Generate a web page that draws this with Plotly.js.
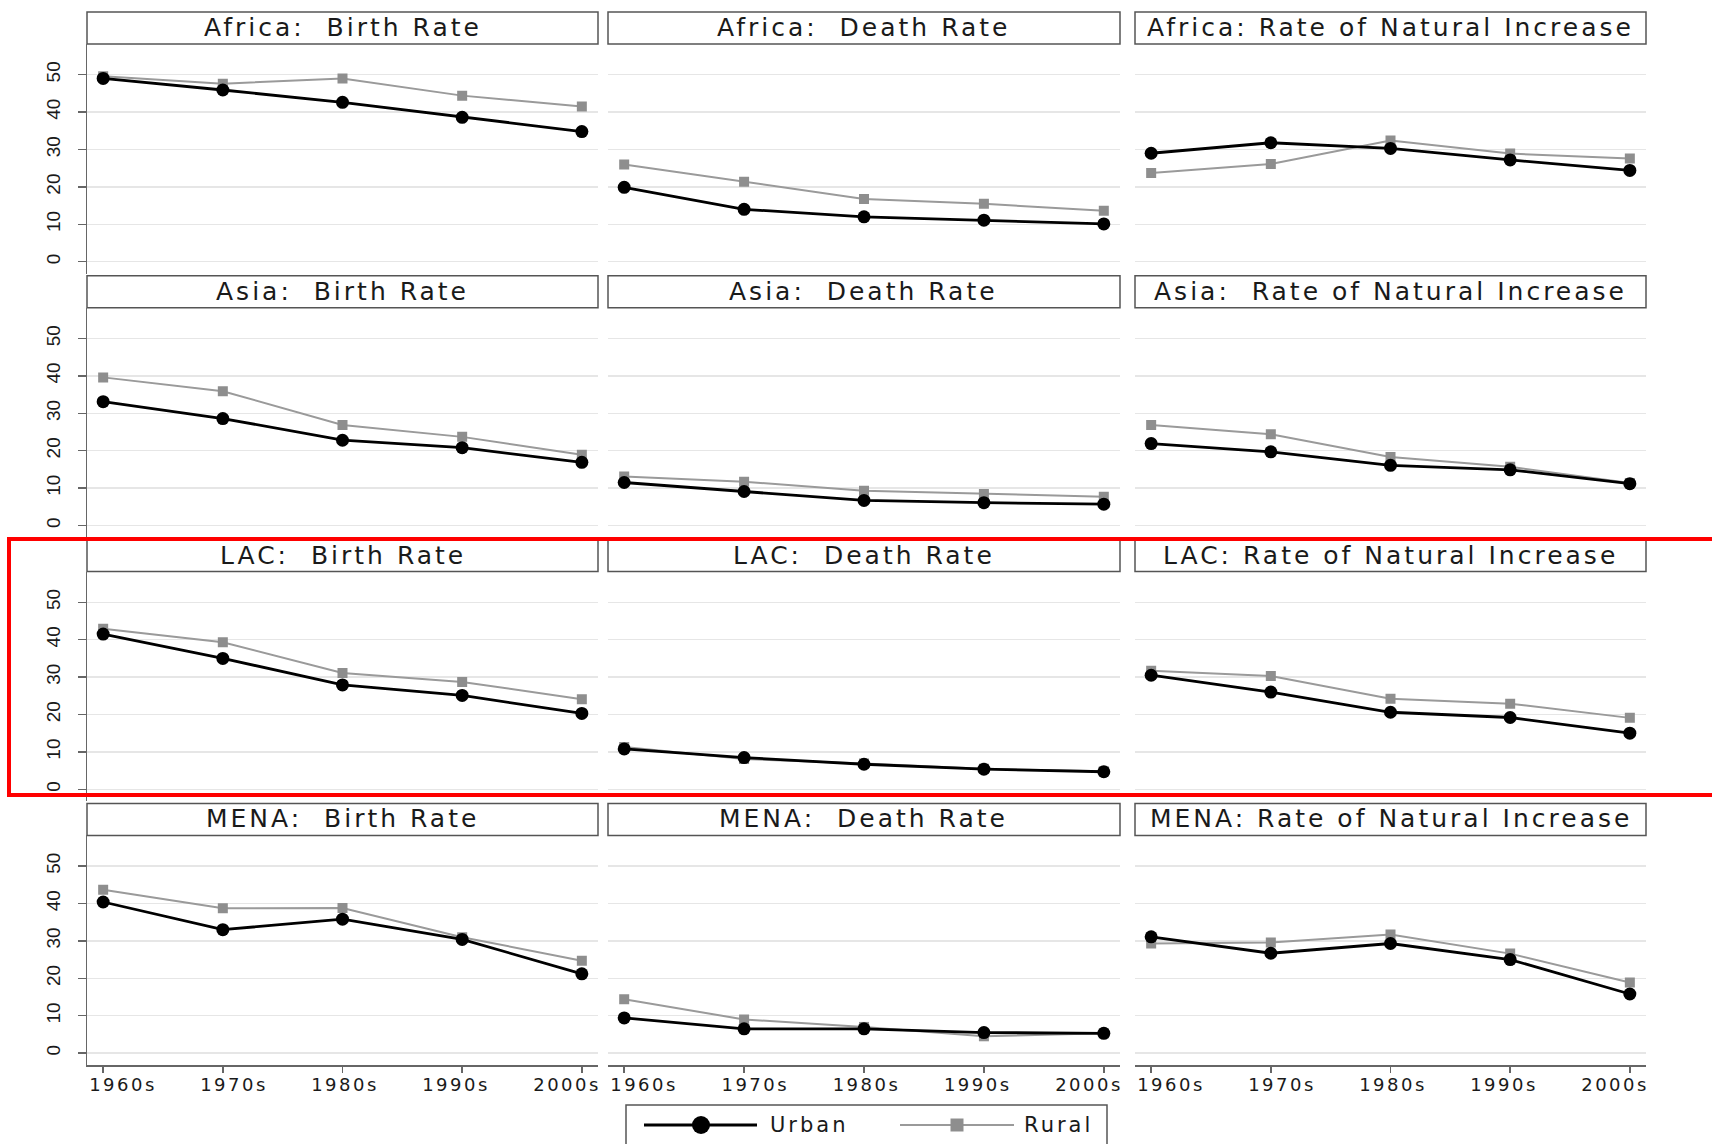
<!DOCTYPE html>
<html>
<head>
<meta charset="utf-8">
<script src="https://cdn.plot.ly/plotly-3.0.1.min.js"></script>
<style>
  html, body { margin: 0; padding: 0; background: #fff; }
  #chart { width: 1712px; height: 1144px; }
  .annotation-text { letter-spacing: 3px; }
  g[class^="x"][class$="tick"] > text { letter-spacing: 2.5px; }
</style>
</head>
<body>
<div id="chart"></div>
<script>
// Decades on the x axis
const decades = ['1960s', '1970s', '1980s', '1990s', '2000s'];
const regions = ['Africa', 'Asia', 'LAC', 'MENA'];
const measures = ['Birth Rate', 'Death Rate', 'Rate of Natural Increase'];
const yTicks = [0, 10, 20, 30, 40, 50];

// Rates per 1,000 population, urban vs rural
const africaBirthUrban = [49.0, 45.9, 42.6, 38.6, 34.8];
const africaBirthRural = [49.6, 47.6, 49.0, 44.4, 41.5];
const africaDeathUrban = [19.9, 14.0, 12.0, 11.1, 10.1];
const africaDeathRural = [26.0, 21.4, 16.8, 15.5, 13.6];
const africaRniUrban   = [29.0, 31.8, 30.3, 27.2, 24.4];
const africaRniRural   = [23.7, 26.1, 32.4, 28.9, 27.6];

const asiaBirthUrban = [33.1, 28.6, 22.8, 20.8, 16.9];
const asiaBirthRural = [39.6, 35.9, 26.9, 23.7, 18.9];
const asiaDeathUrban = [11.5, 9.1, 6.7, 6.1, 5.7];
const asiaDeathRural = [13.1, 11.7, 9.3, 8.4, 7.7];
const asiaRniUrban   = [21.9, 19.7, 16.1, 14.9, 11.2];
const asiaRniRural   = [26.9, 24.4, 18.3, 15.7, 11.4];

const lacBirthUrban = [41.5, 35.0, 27.9, 25.1, 20.3];
const lacBirthRural = [42.9, 39.3, 31.1, 28.7, 24.1];
const lacDeathUrban = [10.8, 8.5, 6.7, 5.4, 4.7];
const lacDeathRural = [11.3, 8.1, 6.9, 5.5, 4.8];
const lacRniUrban   = [30.5, 26.0, 20.6, 19.2, 15.0];
const lacRniRural   = [31.7, 30.3, 24.2, 22.9, 19.1];

const menaBirthUrban = [40.4, 33.0, 35.8, 30.4, 21.2];
const menaBirthRural = [43.7, 38.7, 38.8, 31.0, 24.7];
const menaDeathUrban = [9.4, 6.5, 6.5, 5.5, 5.3];
const menaDeathRural = [14.4, 9.0, 7.0, 4.5, 5.3];
const menaRniUrban   = [31.1, 26.7, 29.3, 25.0, 15.8];
const menaRniRural   = [29.3, 29.6, 31.7, 26.6, 18.9];

const urbanSeries = [
  [africaBirthUrban, africaDeathUrban, africaRniUrban],
  [asiaBirthUrban, asiaDeathUrban, asiaRniUrban],
  [lacBirthUrban, lacDeathUrban, lacRniUrban],
  [menaBirthUrban, menaDeathUrban, menaRniUrban]
];
const ruralSeries = [
  [africaBirthRural, africaDeathRural, africaRniRural],
  [asiaBirthRural, asiaDeathRural, asiaRniRural],
  [lacBirthRural, lacDeathRural, lacRniRural],
  [menaBirthRural, menaDeathRural, menaRniRural]
];

// ---- page geometry (pixels) ----
const W = 1712, H = 1144;
const px = v => v / W;
const py = v => 1 - v / H;
const colX = [[87, 598], [608, 1120], [1135, 1646]];
const rowPitch = 263.8;
const headTop = 12, headBottom = 44, plotBottom = 273.7;

const URBAN = '#000000';
const RURAL = '#8e8e8e';
const RURAL_LINE = '#9a9a9a';
const AXIS = '#666666';
const GRID = '#e6e6e6';
const TEXT = '#1a1a1a';

const traces = [];
const layout = {
  width: W, height: H,
  margin: { l: 0, r: 0, t: 0, b: 0 },
  paper_bgcolor: '#ffffff',
  plot_bgcolor: '#ffffff',
  showlegend: false,
  font: { family: 'DejaVu Sans', color: TEXT },
  shapes: [],
  annotations: []
};

for (let r = 0; r < regions.length; r++) {
  for (let c = 0; c < measures.length; c++) {
    const n = r * 3 + c + 1;
    const xid = n === 1 ? 'x' : 'x' + n;
    const yid = n === 1 ? 'y' : 'y' + n;
    const xkey = n === 1 ? 'xaxis' : 'xaxis' + n;
    const ykey = n === 1 ? 'yaxis' : 'yaxis' + n;
    const top = headBottom + r * rowPitch;
    const bottom = plotBottom + r * rowPitch;
    const bottomRow = r === regions.length - 1;

    layout[xkey] = {
      domain: [px(colX[c][0]), px(colX[c][1])],
      anchor: yid,
      type: 'category',
      range: [-0.135, 4.135],
      showgrid: false,
      zeroline: false,
      showticklabels: false,
      showline: bottomRow,
      linecolor: AXIS,
      linewidth: 1.5,
      ticks: bottomRow ? 'outside' : '',
      ticklen: 6,
      tickwidth: 1.5,
      tickcolor: AXIS,
      fixedrange: true
    };
    layout[ykey] = {
      domain: [py(bottom), py(top)],
      anchor: xid,
      range: [-3.2, 58.2],
      tickvals: yTicks,
      showgrid: true,
      gridcolor: GRID,
      gridwidth: 1.5,
      zeroline: false,
      showline: c === 0,
      linecolor: AXIS,
      linewidth: 1.5,
      ticks: c === 0 ? 'outside' : '',
      ticklen: 8,
      tickwidth: 1.5,
      tickcolor: AXIS,
      showticklabels: c === 0,
      tickangle: -90,
      ticklabelstandoff: 10,
      tickfont: { family: 'Liberation Sans', size: 19, color: TEXT },
      fixedrange: true
    };

    traces.push({
      type: 'scatter', mode: 'lines+markers', name: 'Rural',
      x: decades, y: ruralSeries[r][c], xaxis: xid, yaxis: yid,
      line: { color: RURAL_LINE, width: 2 },
      marker: { symbol: 'square', size: 10, color: RURAL },
      hoverinfo: 'x+y+name'
    });
    traces.push({
      type: 'scatter', mode: 'lines+markers', name: 'Urban',
      x: decades, y: urbanSeries[r][c], xaxis: xid, yaxis: yid,
      line: { color: URBAN, width: 2.8 },
      marker: { symbol: 'circle', size: 13, color: URBAN },
      hoverinfo: 'x+y+name'
    });

    // panel header strip
    const hTop = headTop + r * rowPitch;
    const hBot = headBottom + r * rowPitch;
    layout.shapes.push({
      type: 'rect', xref: 'paper', yref: 'paper', layer: 'below',
      x0: px(colX[c][0]), x1: px(colX[c][1]), y0: py(hBot), y1: py(hTop),
      line: { color: '#555555', width: 1.5 }, fillcolor: '#ffffff'
    });
    layout.annotations.push({
      xref: 'paper', yref: 'paper',
      x: px((colX[c][0] + colX[c][1]) / 2), y: py((hTop + hBot) / 2 - 0.5),
      xanchor: 'center', yanchor: 'middle', showarrow: false,
      text: (c === 2 && r !== 1 ? regions[r] + ': ' : regions[r] + ':\u00a0 ') + measures[c],
      font: { family: 'DejaVu Sans', size: 25, color: TEXT }
    });
  }
}

// decade labels along the bottom row, on their own overlaying axes
[13, 14, 15].forEach((n, c) => {
  const base = 10 + c;
  layout['xaxis' + n] = {
    overlaying: 'x' + base,
    anchor: 'y' + base,
    type: 'category',
    range: [-0.324, 4.279],
    showgrid: false, zeroline: false, showline: false,
    ticks: '',
    side: 'bottom',
    ticklabelstandoff: 7,
    tickfont: { family: 'DejaVu Sans', size: 18, color: TEXT },
    fixedrange: true
  };
  // carrier for the label axis: categories only, nothing plotted
  traces.push({
    type: 'scatter', mode: 'lines', x: decades, y: decades.map(() => null),
    xaxis: 'x' + n, yaxis: 'y' + base, hoverinfo: 'skip', showlegend: false,
    line: { width: 0 }
  });
});

// legend
const legY = 1125;
layout.shapes.push(
  { type: 'rect', xref: 'paper', yref: 'paper', x0: px(626), x1: px(1107), y0: py(1160), y1: py(1105),
    line: { color: '#555555', width: 1.5 }, fillcolor: '#ffffff', layer: 'below' },
  { type: 'line', xref: 'paper', yref: 'paper', x0: px(644), x1: px(757), y0: py(legY), y1: py(legY),
    line: { color: URBAN, width: 3 } },
  { type: 'circle', xref: 'paper', yref: 'paper', x0: px(692), x1: px(710), y0: py(legY + 9), y1: py(legY - 9),
    line: { color: URBAN, width: 0 }, fillcolor: URBAN },
  { type: 'line', xref: 'paper', yref: 'paper', x0: px(900), x1: px(1014), y0: py(legY), y1: py(legY),
    line: { color: RURAL_LINE, width: 2 } },
  { type: 'rect', xref: 'paper', yref: 'paper', x0: px(950.5), x1: px(963.5), y0: py(legY + 6.5), y1: py(legY - 6.5),
    line: { color: RURAL, width: 0 }, fillcolor: RURAL }
);
layout.annotations.push(
  { xref: 'paper', yref: 'paper', x: px(768), y: py(legY), xanchor: 'left', yanchor: 'middle',
    showarrow: false, text: 'Urban', font: { family: 'DejaVu Sans', size: 21, color: TEXT } },
  { xref: 'paper', yref: 'paper', x: px(1022), y: py(legY), xanchor: 'left', yanchor: 'middle',
    showarrow: false, text: 'Rural', font: { family: 'DejaVu Sans', size: 21, color: TEXT } }
);

// highlighted LAC row
layout.shapes.push({
  type: 'rect', xref: 'paper', yref: 'paper', layer: 'above',
  x0: px(9), x1: 1.02, y0: py(795), y1: py(539),
  line: { color: '#ff0000', width: 4 }, fillcolor: 'rgba(0,0,0,0)'
});

Plotly.newPlot('chart', traces, layout, { displayModeBar: false, staticPlot: true });
</script>
</body>
</html>
